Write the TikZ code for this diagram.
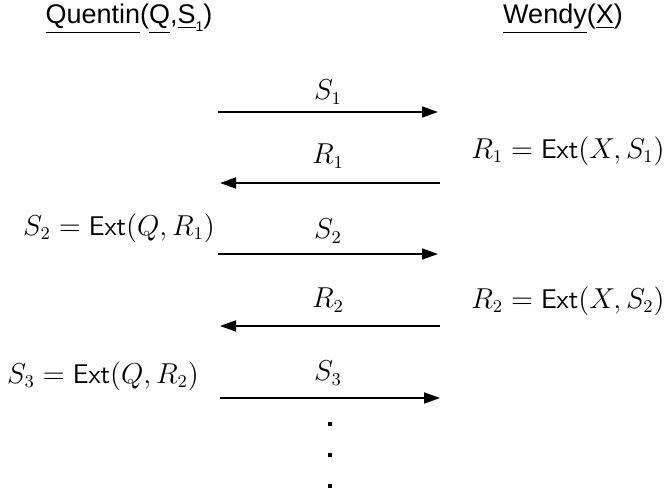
\documentclass[tikz,border=0pt]{standalone}
\usepackage{amsmath}
\usepackage{fontspec}
\newfontfamily\headfont{Liberation Sans}
\usetikzlibrary{arrows.meta}

\begin{document}
\begin{tikzpicture}[x=0.5pt, y=-0.5pt,
 font=\fontsize{13.5}{16}\selectfont,
 head/.style={font=\headfont\fontsize{13.5}{16}\selectfont, inner sep=0pt},
 lbl/.style={inner sep=0pt},
 eqn/.style={inner sep=0pt},
 msg/.style={-{Triangle[length=8pt,width=5.5pt]}, line width=0.9pt},
 dotmark/.style={fill, rectangle, minimum size=2.2pt, inner sep=0pt}]
\useasboundingbox (0,0) rectangle (664,493);
% parties
\node[head] (quentin) at (129,19) {\underline{Quentin}(\underline{Q},\underline{S}\raisebox{-0.6ex}{\fontsize{7}{8}\selectfont 1})};
\node[head] (wendy) at (563,19) {\underline{Wendy}(\underline{X})};
% lanes
\coordinate (s1l) at (218,112); \coordinate (s1r) at (438,112);
\coordinate (r1l) at (220,183); \coordinate (r1r) at (440,183);
\coordinate (s2l) at (218,254); \coordinate (s2r) at (438,254);
\coordinate (r2l) at (220,326); \coordinate (r2r) at (440,326);
\coordinate (s3l) at (220,398); \coordinate (s3r) at (440,398);
% messages
\node[lbl] (ls1) at (328,92) {$S_1$};
\node[lbl] (lr1) at (328,156) {$R_1$};
\node[lbl] (ls2) at (328,231) {$S_2$};
\node[lbl] (lr2) at (328,300) {$R_2$};
\node[lbl] (ls3) at (328,373) {$S_3$};
\draw[msg] (s1l) -- (s1r);
\draw[msg] (r1r) -- (r1l);
\draw[msg] (s2l) -- (s2r);
\draw[msg] (r2r) -- (r2l);
\draw[msg] (s3l) -- (s3r);
% computations
\node[eqn] (extr1) at (568,151) {$R_1 = \mathsf{Ext}(X, S_1)$};
\node[eqn] (exts2) at (119,228) {$S_2 = \mathsf{Ext}(Q, R_1)$};
\node[eqn] (extr2) at (568,301) {$R_2 = \mathsf{Ext}(X, S_2)$};
\node[eqn] (exts3) at (103,376) {$S_3 = \mathsf{Ext}(Q, R_2)$};
% more rounds
\node[dotmark] (d1) at (330,424) {};
\node[dotmark] (d2) at (330,455) {};
\node[dotmark] (d3) at (330,486) {};
\end{tikzpicture}
\end{document}
